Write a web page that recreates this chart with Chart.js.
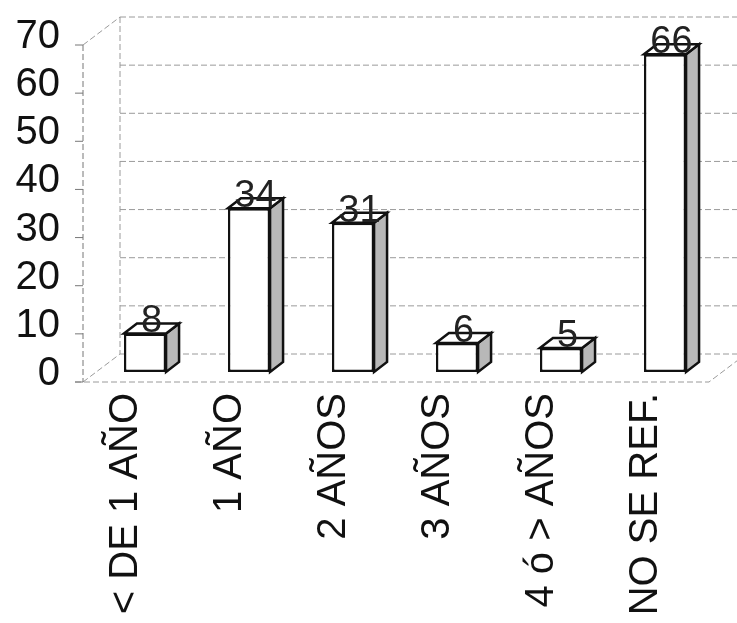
<!DOCTYPE html>
<html>
<head>
<meta charset="utf-8">
<script src="https://cdn.jsdelivr.net/npm/chart.js@4"></script>
<style>
  html, body { margin: 0; padding: 0; background: #ffffff; }
  #wrap { width: 737px; height: 623px; position: relative; }
</style>
</head>
<body>
<div id="wrap"><canvas id="c" width="737" height="623"></canvas></div>
<script>
const categories = ["< DE 1 AÑO", "1 AÑO", "2 AÑOS", "3 AÑOS", "4 ó > AÑOS", "NO SE REF."];
const values = [8, 34, 31, 6, 5, 66];
const yMin = 0;
const yMax = 70;
const yStep = 10;

const DEPTH_X = 13, DEPTH_Y = 10;      // bar depth
const WALL_X = 27, WALL_Y = 18;        // back wall offset from bar plane
const FRONT_X = -10, FRONT_Y = 10;     // front axis offset from bar plane

const wallPlugin = {
  id: 'wall3d',
  beforeDatasetsDraw(chart) {
    const ctx = chart.ctx;
    const y = chart.scales.y;
    const area = chart.chartArea;
    const W = chart.width;
    const bx = area.left + WALL_X;
    const fx = area.left + FRONT_X;
    ctx.save();
    ctx.strokeStyle = '#9a9a9a';
    ctx.lineWidth = 1;
    ctx.setLineDash([6, 3]);
    for (let v = yMin; v <= yMax; v += yStep) {
      const py = y.getPixelForValue(v) - WALL_Y;
      ctx.beginPath();
      ctx.moveTo(bx, py);
      ctx.lineTo(W, py);
      ctx.stroke();
    }
    ctx.beginPath();
    ctx.moveTo(bx, y.getPixelForValue(yMax) - WALL_Y);
    ctx.lineTo(bx, y.getPixelForValue(yMin) - WALL_Y);
    ctx.stroke();
    ctx.beginPath();
    ctx.moveTo(fx, y.getPixelForValue(yMax) + FRONT_Y);
    ctx.lineTo(bx, y.getPixelForValue(yMax) - WALL_Y);
    ctx.moveTo(fx, y.getPixelForValue(yMin) + FRONT_Y);
    ctx.lineTo(bx, y.getPixelForValue(yMin) - WALL_Y);
    ctx.stroke();
    const floorY = y.getPixelForValue(yMin) + FRONT_Y;
    ctx.beginPath();
    ctx.moveTo(fx - 8, floorY);
    ctx.lineTo(area.right - 8, floorY);
    ctx.lineTo(area.right - 8 + (WALL_X - FRONT_X), floorY - (WALL_Y + FRONT_Y));
    ctx.stroke();
    ctx.strokeStyle = '#777';
    ctx.beginPath();
    ctx.moveTo(fx, y.getPixelForValue(yMax) + FRONT_Y);
    ctx.lineTo(fx, floorY);
    ctx.stroke();
    ctx.setLineDash([]);
    for (let v = yMin; v <= yMax; v += yStep) {
      const py = y.getPixelForValue(v) + FRONT_Y;
      ctx.beginPath();
      ctx.moveTo(fx - 8, py);
      ctx.lineTo(fx, py);
      ctx.stroke();
    }
    ctx.restore();
  },
  afterDatasetsDraw(chart) {
    const ctx = chart.ctx;
    const meta = chart.getDatasetMeta(0);
    ctx.save();
    ctx.lineJoin = 'miter';
    meta.data.forEach((bar, i) => {
      const p = bar.getProps(['x', 'y', 'base', 'width'], true);
      const l = p.x - p.width / 2, r = p.x + p.width / 2;
      const t = p.y, b = p.base;
      ctx.lineWidth = 2.5;
      ctx.strokeStyle = '#111';
      ctx.fillStyle = '#b8b8b8';
      ctx.beginPath();
      ctx.moveTo(r, t);
      ctx.lineTo(r + DEPTH_X, t - DEPTH_Y);
      ctx.lineTo(r + DEPTH_X, b - DEPTH_Y);
      ctx.lineTo(r, b);
      ctx.closePath();
      ctx.fill();
      ctx.stroke();
      ctx.fillStyle = '#ffffff';
      ctx.beginPath();
      ctx.moveTo(l, t);
      ctx.lineTo(l + DEPTH_X, t - DEPTH_Y);
      ctx.lineTo(r + DEPTH_X, t - DEPTH_Y);
      ctx.lineTo(r, t);
      ctx.closePath();
      ctx.fill();
      ctx.stroke();
      ctx.fillStyle = '#222';
      ctx.font = '38px "Liberation Sans", Arial, sans-serif';
      ctx.textAlign = 'center';
      ctx.textBaseline = 'alphabetic';
      ctx.fillText(String(values[i]), p.x + DEPTH_X / 2, t - 1);
    });
    ctx.restore();
  }
};

new Chart(document.getElementById('c'), {
  type: 'bar',
  data: {
    labels: categories,
    datasets: [{
      data: values,
      backgroundColor: '#ffffff',
      borderColor: '#111',
      borderWidth: 2.5,
      borderSkipped: false,
      categoryPercentage: 1.0,
      barPercentage: 0.405
    }]
  },
  options: {
    responsive: false,
    animation: false,
    layout: { padding: { top: 35, right: 20, left: 0, bottom: 0 } },
    plugins: { legend: { display: false }, tooltip: { enabled: false } },
    scales: {
      x: {
        grid: { display: false, drawTicks: false },
        border: { display: false },
        afterFit: (s) => { s.height = 251; s.paddingLeft = 0; s.paddingRight = 0; s.paddingTop = 0; s.paddingBottom = 0; },
        ticks: {
          minRotation: 90,
          maxRotation: 90,
          autoSkip: false,
          padding: 21,
          labelOffset: -19,
          color: '#111',
          font: { family: '"Liberation Sans", Arial, sans-serif', size: 40 }
        }
      },
      y: {
        min: yMin,
        max: yMax,
        grid: { display: false, drawTicks: false },
        border: { display: false },
        afterFit: (s) => { s.width = 93; s.paddingTop = 0; s.paddingBottom = 0; s.paddingLeft = 0; s.paddingRight = 0; },
        ticks: {
          stepSize: yStep,
          autoSkip: false,
          padding: 33,
          labelOffset: 2,
          color: '#111',
          font: { family: '"Liberation Sans", Arial, sans-serif', size: 40 }
        }
      }
    }
  },
  plugins: [wallPlugin]
});
</script>
</body>
</html>
